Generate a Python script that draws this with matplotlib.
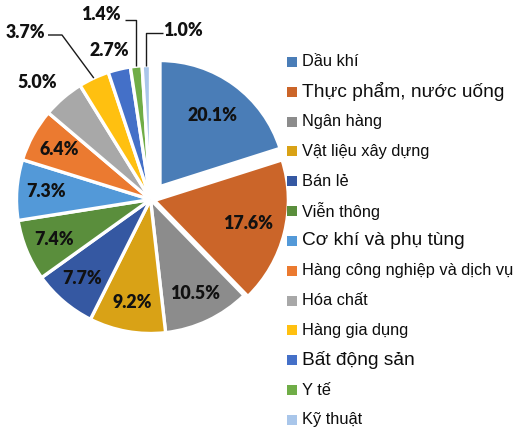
import numpy as np
import matplotlib.pyplot as plt
from matplotlib.patches import Rectangle

# Canvas in pixels (y measured from the top in the reference)
W, H = 518, 434

sectors = ["Dầu khí", "Thực phẩm, nước uống", "Ngân hàng", "Vật liệu xây dựng",
           "Bán lẻ", "Viễn thông", "Cơ khí và phụ tùng",
           "Hàng công nghiệp và dịch vụ", "Hóa chất", "Hàng gia dụng",
           "Bất động sản", "Y tế", "Kỹ thuật"]
shares = [20.1, 17.6, 10.5, 9.2, 7.7, 7.4, 7.3, 6.4, 5.0, 3.7, 2.7, 1.4, 1.0]
colors = ["#4A7DB7", "#CB6529", "#8C8C8C", "#D9A216", "#3558A2", "#5A8E3C",
          "#5399D8", "#EB7A30", "#A8A8A8", "#FFC010", "#4470C8", "#70AD47",
          "#A9C6EA"]
explode = [0.12, 0.03, 0, 0, 0, 0, 0, 0, 0, 0, 0, 0, 0]
big_legend = ["Thực phẩm, nước uống", "Cơ khí và phụ tùng", "Bất động sản"]

# layout
cx, cy, R = 150.5, H - 199.5, 134
label_dist = [0.66, 0.72] + [0.78] * 11
outer_xy = {8: (37, 83), 9: (25, 32), 10: (109, 50), 11: (101, 15), 12: (183, 30)}
leaders = {9: (48, 35, 62), 11: (125, 20, None), 12: (163, 33, None)}

fig = plt.figure(figsize=(W / 100, H / 100), dpi=100)
ax = fig.add_axes([0, 0, 1, 1])

# pie's explode is in data units, so scale it by the radius
wedges, _, autotexts = ax.pie(
    shares, colors=colors, explode=[e * R for e in explode], startangle=90,
    counterclock=False, radius=R, center=(cx, cy), autopct="%.1f%%",
    pctdistance=0.78, wedgeprops=dict(edgecolor="white", linewidth=2.4),
    textprops=dict(family="Lato", fontweight="heavy", fontsize=12.8, color="#111111"))
wedges[0].set_radius(126)

for i, (w, t) in enumerate(zip(wedges, autotexts)):
    mid = np.deg2rad((w.theta1 + w.theta2) / 2)
    wx, wy = w.center
    if i in outer_xy:
        x, y = outer_xy[i]
        t.set_position((x, H - y))
    else:
        t.set_position((wx + label_dist[i] * R * np.cos(mid),
                        wy + label_dist[i] * R * np.sin(mid)))
    t.set_ha("center")
    t.set_va("center")
    if i in leaders:
        x0, y0, xe = leaders[i]
        ex, ey = wx + R * np.cos(mid), wy + R * np.sin(mid)
        if xe is None:
            xe = ex
        ax.plot([x0, xe, ex], [H - y0, H - y0, ey], color="#1a1a1a", lw=1.0,
                solid_capstyle="butt")

# legend
for i, name in enumerate(sectors):
    y = H - (62 + i * 29.83)
    ax.add_patch(Rectangle((287, y - 5), 10, 10, facecolor=colors[i],
                           edgecolor="none"))
    ax.text(302, y, name, family="Liberation Sans", va="center", ha="left",
            fontsize=13.8 if name in big_legend else 11.8, color="#0d0d0d")

ax.set_xlim(0, W)
ax.set_ylim(0, H)
ax.set_aspect("auto")
ax.axis("off")

fig.savefig("out.png", dpi=100)
